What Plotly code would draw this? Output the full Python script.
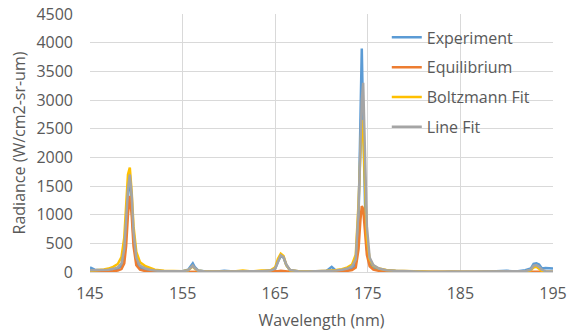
import plotly.graph_objects as go

wavelength = [145, 145.5, 146, 146.5, 147, 147.5, 148, 148.4, 148.7, 148.9, 149.1, 149.3, 149.5, 149.7, 150.0, 150.4,
              151, 151.5, 152, 153, 154, 155, 155.6, 155.9, 156.1, 156.3, 156.7, 157.5, 158.5, 159.5, 160.5, 161.5,
              162.5, 163.5, 164.5, 165.0, 165.3, 165.6, 165.9, 166.2, 166.6, 167.5, 168.5, 169.5, 170.5, 171.1,
              171.6, 172.2, 172.8, 173.3, 173.7, 174.0, 174.2, 174.35, 174.5, 174.7, 174.9, 175.2, 175.6, 176.2,
              177, 178, 179, 180, 181, 182, 184, 186, 188, 190, 191, 192, 192.6, 192.9, 193.2, 193.5, 193.8, 194.2, 195]

experiment = [80, 40, 30, 30, 35, 45, 60, 110, 300, 800, 1400, 1650, 1200, 600, 200, 80,
              40, 25, 15, 10, 10, 15, 40, 110, 150, 90, 25, 10, 5, 20, 10, 15,
              8, 10, 20, 60, 180, 280, 250, 120, 30, 10, 8, 10, 12, 90,
              20, 25, 35, 60, 150, 900, 3000, 3900, 2600, 1200, 400, 150, 80, 40,
              20, 15, 10, -10, 5, -15, 5, -10, 5, 20, 10, 30, 60, 140, 150, 130, 60, 70, 60]

equilibrium = [5, 5, 5, 8, 10, 15, 25, 50, 150, 450, 1000, 1330, 1000, 450, 120, 40,
               15, 10, 5, 3, 2, 2, 3, 5, 8, 5, 3, 2, 2, 2, 2, 2,
               2, 3, 5, 8, 15, 20, 15, 8, 5, 3, 3, 3, 5, 6,
               8, 12, 20, 35, 80, 400, 900, 1150, 1100, 700, 300, 100, 40, 20,
               10, 5, 3, 2, 2, 1, 1, 1, 1, 1, 1, 2, 4, 8, 10, 6, 3, 2, 2]

boltzmann = [20, 25, 30, 45, 60, 90, 140, 260, 600, 1200, 1700, 1820, 1400, 800, 350, 170,
             100, 70, 40, 20, 15, 15, 30, 80, 100, 60, 20, 10, 10, 8, 10, 25,
             10, 25, 30, 80, 230, 320, 280, 120, 30, 15, 10, 15, 20, 25,
             35, 50, 80, 130, 300, 1200, 2200, 2650, 2500, 1500, 600, 220, 110, 60,
             35, 20, 15, 10, 8, 5, 5, 5, 5, 5, 5, 10, 30, 80, 90, 60, 20, 8, 5]

line_fit = [30, 30, 30, 35, 40, 55, 80, 150, 400, 900, 1450, 1700, 1350, 700, 250, 110,
            60, 40, 25, 15, 12, 15, 30, 90, 110, 70, 20, 10, 10, 15, 10, 20,
            10, 15, 25, 60, 180, 290, 260, 130, 35, 15, 10, 12, 15, 20,
            25, 40, 60, 100, 220, 1100, 2400, 3000, 3300, 2000, 800, 250, 120, 60,
            30, 20, 12, 8, 6, 5, 5, 5, 5, 8, 8, 15, 40, 110, 120, 90, 40, 15, 10]

series = [("Experiment", experiment, "#5B9BD5"),
          ("Equilibrium", equilibrium, "#ED7D31"),
          ("Boltzmann Fit", boltzmann, "#FFC000"),
          ("Line Fit", line_fit, "#A5A5A5")]

fig = go.Figure()
for i, (name, vals, col) in enumerate(series):
    fig.add_trace(go.Scatter(x=wavelength, y=vals, name=name, mode="lines",
                             line=dict(color=col, width=2.5), legendgroup=str(i)))

font = "Open Sans, Calibri, sans-serif"
fig.update_layout(
    width=568, height=333,
    margin=dict(l=90, r=15, t=14, b=61),
    paper_bgcolor="white", plot_bgcolor="white",
    font=dict(family=font, size=16, color="#595959"),
    showlegend=True,
    legend=dict(x=0.641, y=0.975, xanchor="left", yanchor="top",
                bgcolor="rgba(0,0,0,0)", font=dict(size=16, color="#595959"),
                itemwidth=30, tracegroupgap=6),
    xaxis=dict(range=[145, 195], dtick=10, tick0=145, showgrid=True, gridcolor="#D9D9D9",
               gridwidth=1, zeroline=False, showline=True, linecolor="#D9D9D9", ticks="",
               automargin=False, ticklabelstandoff=7,
               title=dict(text="Wavelength (nm)", font=dict(size=16, color="#595959"), standoff=11),
               tickfont=dict(size=16)),
    yaxis=dict(range=[0, 4500], dtick=500, showgrid=True, gridcolor="#D9D9D9", gridwidth=1,
               zeroline=False, showline=False, ticks="", automargin=False, ticklabelstandoff=16,
               title=dict(text="Radiance (W/cm2-sr-um)", font=dict(size=16, color="#595959"), standoff=6),
               tickfont=dict(size=16)),
)
fig.write_html("out.html")
